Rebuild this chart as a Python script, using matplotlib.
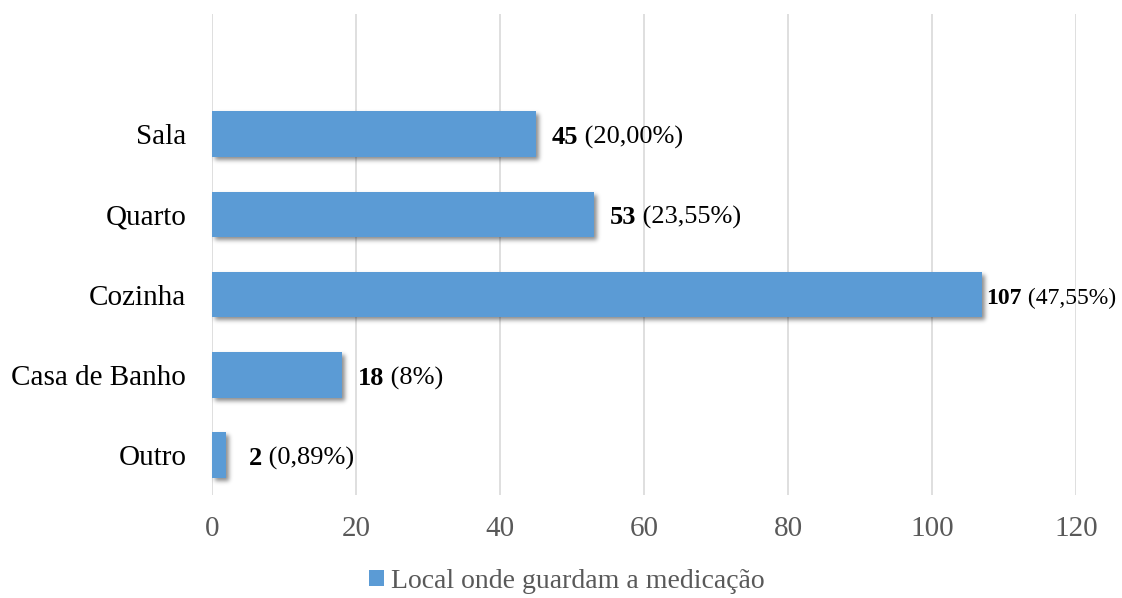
import matplotlib
matplotlib.use("Agg")
import numpy as np
import matplotlib.pyplot as plt
import matplotlib.transforms as mtransforms

categories = ["Outro", "Casa de Banho", "Cozinha", "Quarto", "Sala"]
counts = [2, 18, 107, 53, 45]
percent_labels = ["(0,89%)", "(8%)", "(47,55%)", "(23,55%)", "(20,00%)"]
x_ticks = [0, 20, 40, 60, 80, 100, 120]
series_name = "Local onde guardam a medicação"

plt.rcParams["font.family"] = ["Liberation Serif", "DejaVu Serif"]


def soft_shadow(sigma_px, alpha):
    """agg_filter that turns the drawn patches into a blurred grey shadow."""
    radius = int(3 * sigma_px)
    k = np.exp(-0.5 * (np.arange(-radius, radius + 1) / sigma_px) ** 2)
    k /= k.sum()

    def _filter(img, dpi):
        a = np.pad(img[:, :, 3], radius)
        a = np.apply_along_axis(lambda r: np.convolve(r, k, mode="same"), 0, a)
        a = np.apply_along_axis(lambda r: np.convolve(r, k, mode="same"), 1, a)
        out = np.zeros(a.shape + (4,), dtype=img.dtype)
        out[:, :, 3] = a * alpha
        return out, -radius, -radius

    return _filter


fig = plt.figure(figsize=(11.22, 5.98), dpi=100)
ax = fig.add_axes([212 / 1122, 1 - 495 / 598, (1076 - 212) / 1122, (495 - 14) / 598])

bar_color = "#5B9BD5"
ypos = list(range(len(categories)))

# blurred drop shadow drawn under the bars, shifted right and down
shadow_tf = ax.transData + mtransforms.ScaledTranslation(3 / 100, -3 / 100, fig.dpi_scale_trans)
shadow = ax.barh(ypos, counts, height=0.57, color="#000000", zorder=2)
for b in shadow:
    b.set_transform(shadow_tf)
    b.set_agg_filter(soft_shadow(2.2, 0.45))
    b.set_rasterized(True)

bars = ax.barh(ypos, counts, height=0.57, color=bar_color, zorder=3,
               label=series_name)

ax.set_xlim(0, 120)
ax.set_ylim(-0.5, 5.5)
ax.set_xticks(x_ticks)
ax.set_yticks(ypos)
ax.set_yticklabels(categories, fontsize=21, color="#000000")
ax.tick_params(axis="x", labelsize=21, colors="#595959", length=0, pad=15)
ax.tick_params(axis="y", length=0, pad=18.5)
ax.grid(axis="x", color="#D9D9D9", linewidth=1.2, zorder=0)
for s in ax.spines.values():
    s.set_visible(False)

# value labels: bold count followed by the percentage
for y, v, p in zip(ypos, counts, percent_labels):
    size = 19
    off = 11.5
    if v < 5:
        off = 16
    if v >= 100:  # long bar: keep the label inside the figure
        off, size = 3.0, 17
    t1 = ax.annotate(str(v), xy=(v, y), xytext=(off, -2.5), textcoords="offset points",
                     ha="left", va="center", fontsize=size, fontweight="bold",
                     color="#000000", zorder=5)
    ax.annotate(" " + p, xy=(1, 0.5), xycoords=t1, ha="left", va="center",
                fontsize=size, color="#000000", zorder=5)

leg = fig.legend(handles=[bars], labels=[series_name], loc="lower center",
                 bbox_to_anchor=(0.505, -0.035), frameon=False, fontsize=20,
                 handlelength=0.55, handleheight=0.55, handletextpad=0.25)
for t in leg.get_texts():
    t.set_color("#595959")

fig.savefig("out.png", dpi=100)
